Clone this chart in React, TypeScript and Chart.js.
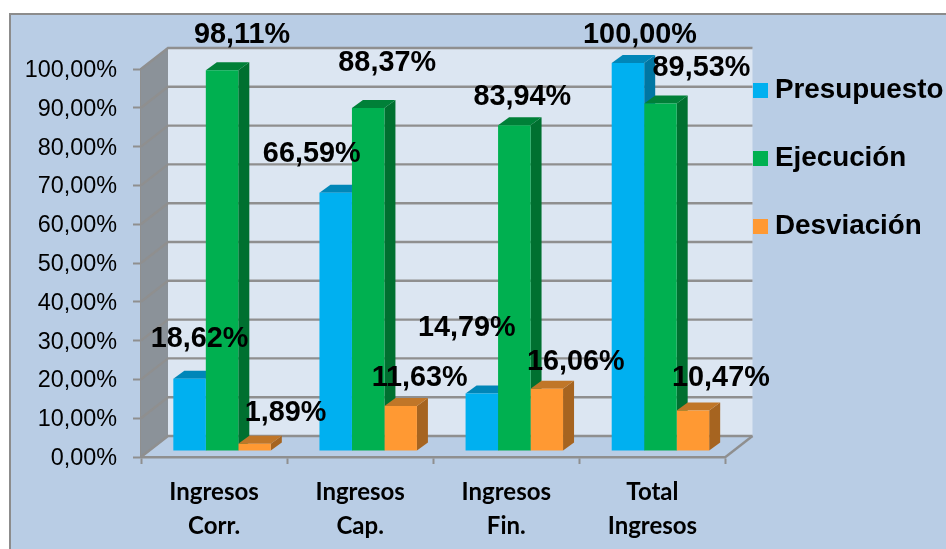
import React, { useEffect, useRef } from "react";
import { Chart, registerables } from "chart.js";

Chart.register(...registerables);

const categories = [["Ingresos", "Corr."], ["Ingresos", "Cap."], ["Ingresos", "Fin."], ["Total", "Ingresos"]];
const presupuesto = [18.62, 66.59, 14.79, 100.0];
const ejecucion = [98.11, 88.37, 83.94, 89.53];
const desviacion = [1.89, 11.63, 16.06, 10.47];

// Offsets of the value labels from the top-centre of each bar, one row per series
const labelOffsets = [
  [[10, -40], [-24, -39], [-15, -66], [12, -28]],
  [[20, -35], [19, -45], [8, -28], [41, -36]],
  [[31, -31], [19, -28], [29, -27], [28, -32]],
];

const colors = [
  { front: "#00B0F0", side: "#0076A3", top: "#0086B8" },
  { front: "#00B050", side: "#007030", top: "#008038" },
  { front: "#FF9933", side: "#A66420", top: "#C07628" },
];

const PANEL = "#B9CDE5";
const WALL = "#DCE6F2";
const SIDE = "#8B9299";
const LINE = "#8F8F8F";
const DEPTH = { dx: 27, dy: -21 };
const BAR_SHIFT = { dx: 8, dy: -6 };
const BAR_DEPTH = { dx: 11, dy: -8 };

const pct = (v: number) => v.toFixed(2).replace(".", ",") + "%";

function poly(ctx: CanvasRenderingContext2D, pts: number[][], fill: string) {
  ctx.beginPath();
  pts.forEach((p, i) => (i ? ctx.lineTo(p[0], p[1]) : ctx.moveTo(p[0], p[1])));
  ctx.closePath();
  ctx.fillStyle = fill;
  ctx.fill();
}

const chrome3d = {
  id: "chrome3d",
  beforeDraw(chart: any) {
    const { ctx, width, height } = chart;
    ctx.save();
    ctx.fillStyle = "#FFFFFF";
    ctx.fillRect(0, 0, width, height);
    ctx.fillStyle = PANEL;
    ctx.fillRect(9, 14, width - 9, height - 14);
    ctx.strokeStyle = "#8C8C8C";
    ctx.lineWidth = 2;
    ctx.beginPath();
    ctx.moveTo(10, height);
    ctx.lineTo(10, 14);
    ctx.lineTo(width, 14);
    ctx.stroke();
    ctx.restore();
  },
  beforeDatasetsDraw(chart: any) {
    const { ctx, chartArea: a, scales } = chart;
    const y = scales.y;
    const { dx, dy } = DEPTH;
    ctx.save();
    poly(ctx, [[a.left, a.top], [a.left + dx, a.top + dy], [a.left + dx, a.bottom + dy], [a.left, a.bottom]], SIDE);
    poly(ctx, [[a.left + dx, a.top + dy], [a.right + dx, a.top + dy], [a.right + dx, a.bottom + dy], [a.left + dx, a.bottom + dy]], WALL);
    ctx.strokeStyle = LINE;
    ctx.lineWidth = 2.4;
    y.ticks.forEach((t: any) => {
      const py = y.getPixelForValue(t.value);
      ctx.beginPath();
      ctx.moveTo(a.left, py);
      ctx.lineTo(a.left + dx, py + dy);
      ctx.lineTo(a.right + dx, py + dy);
      ctx.stroke();
    });
    ctx.beginPath();
    ctx.moveTo(a.right, a.bottom);
    ctx.lineTo(a.right + dx, a.bottom + dy);
    ctx.stroke();
    // Top and side faces of all bars, left to right, under every front face
    ctx.translate(BAR_SHIFT.dx, BAR_SHIFT.dy);
    chart.data.datasets.forEach((_: any, i: number) => {
      const c = colors[i];
      chart.getDatasetMeta(i).data.forEach((bar: any) => {
        const w = bar.width / 2;
        const d = BAR_DEPTH;
        poly(ctx, [[bar.x + w, bar.y], [bar.x + w + d.dx, bar.y + d.dy], [bar.x + w + d.dx, bar.base + d.dy], [bar.x + w, bar.base]], c.side);
        poly(ctx, [[bar.x - w, bar.y], [bar.x - w + d.dx, bar.y + d.dy], [bar.x + w + d.dx, bar.y + d.dy], [bar.x + w, bar.y]], c.top);
      });
    });
    ctx.restore();
  },
  beforeDatasetDraw(chart: any) {
    chart.ctx.save();
    chart.ctx.translate(BAR_SHIFT.dx, BAR_SHIFT.dy);
  },
  afterDatasetDraw(chart: any) {
    chart.ctx.restore();
  },
  afterDatasetsDraw(chart: any) {
    const { ctx } = chart;
    ctx.save();
    ctx.font = "bold 28.8px 'Liberation Sans'";
    ctx.fillStyle = "#000000";
    ctx.textAlign = "center";
    ctx.textBaseline = "middle";
    chart.data.datasets.forEach((ds: any, i: number) => {
      chart.getDatasetMeta(i).data.forEach((bar: any, j: number) => {
        const [ox, oy] = labelOffsets[i][j];
        ctx.fillText(pct(ds.data[j]), bar.x + BAR_SHIFT.dx + ox, bar.y + BAR_SHIFT.dy + oy);
      });
    });
    ctx.textAlign = "left";
    ctx.font = "bold 27.8px 'Liberation Sans'";
    chart.data.datasets.forEach((ds: any, i: number) => {
      const cy = 90.5 + i * 68;
      ctx.fillStyle = ds.backgroundColor;
      ctx.fillRect(753, cy - 7.5, 15, 15);
      ctx.fillStyle = "#000000";
      ctx.fillText(ds.label, 775, cy);
    });
    ctx.restore();
  },
};

export default function App() {
  const ref = useRef<HTMLCanvasElement>(null);
  useEffect(() => {
    const series = [presupuesto, ejecucion, desviacion];
    const names = ["Presupuesto", "Ejecución", "Desviación"];
    const chart = new Chart(ref.current!, {
      type: "bar",
      data: {
        labels: categories as any,
        datasets: series.map((data, i) => ({
          label: names[i],
          data,
          backgroundColor: colors[i].front,
          clip: false as any,
          categoryPercentage: 0.667,
          barPercentage: 1,
        })),
      },
      options: {
        responsive: false,
        animation: false,
        layout: { padding: { left: 0, right: 220.5, top: 69, bottom: 0 } },
        plugins: { legend: { display: false }, tooltip: { enabled: false }, title: { display: false } },
        scales: {
          x: {
            afterFit: (s: any) => { s.height = 92; },
            grid: { drawOnChartArea: false, drawTicks: true, tickLength: 7, tickWidth: 2, color: LINE, offset: true },
            border: { color: LINE, width: 2.4 },
            ticks: {
              color: "#000000",
              padding: 11,
              maxRotation: 0,
              autoSkip: false,
              font: { family: "Lato", weight: "bold", size: 24, lineHeight: 1.42 },
            },
          },
          y: {
            min: 0,
            max: 100,
            afterFit: (s: any) => { s.width = 141; },
            grid: { drawOnChartArea: false, drawTicks: true, tickLength: 8, tickWidth: 2, color: LINE },
            border: { color: LINE, width: 2 },
            ticks: {
              stepSize: 10,
              color: "#000000",
              padding: 16,
              labelOffset: 1.5,
              callback: (v: any) => pct(Number(v)),
              font: { family: "Liberation Sans", size: 23.4 },
            },
          },
        },
      },
      plugins: [chrome3d],
    });
    return () => chart.destroy();
  }, []);
  return (
    <canvas
      ref={ref}
      width={946}
      height={549}
      style={{ position: "absolute", left: 0, top: 0, width: 946, height: 549, display: "block" }}
    />
  );
}
